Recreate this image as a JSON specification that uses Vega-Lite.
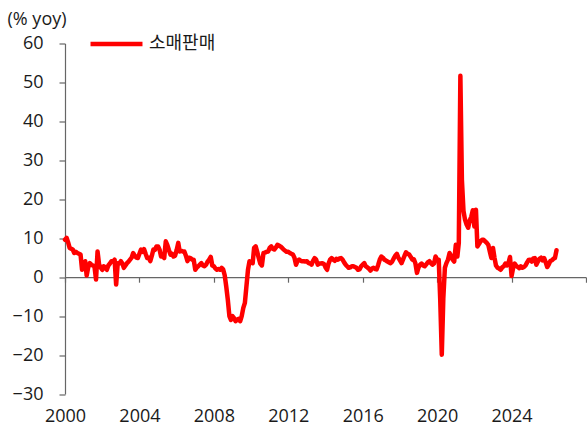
{
  "$schema": "https://vega.github.io/schema/vega-lite/v6.json",
  "width": 521,
  "height": 350.5,
  "autosize": "none",
  "padding": {"left": 65, "top": 43.5, "right": 1, "bottom": 36},
  "background": "white",
  "config": {
    "view": {"stroke": null},
    "font": "Open Sans",
    "axis": {"labelFont": "Open Sans", "titleFont": "Open Sans", "labelOverlap": false, "labelFlush": false, "grid": false}
  },
  "datasets": {
    "rs": [
      {"date":"2000-01-01","v":9.6},{"date":"2000-02-01","v":10.1},{"date":"2000-03-01","v":9.0},{"date":"2000-04-01","v":7.5},{"date":"2000-05-01","v":7.3},{"date":"2000-06-01","v":7.1},{"date":"2000-07-01","v":6.2},{"date":"2000-08-01","v":6.5},{"date":"2000-09-01","v":6.2},{"date":"2000-10-01","v":6.0},{"date":"2000-11-01","v":5.8},{"date":"2000-12-01","v":1.9},
      {"date":"2001-01-01","v":3.0},{"date":"2001-02-01","v":4.1},{"date":"2001-03-01","v":0.4},{"date":"2001-04-01","v":2.5},{"date":"2001-05-01","v":3.6},{"date":"2001-06-01","v":3.2},{"date":"2001-07-01","v":3.0},{"date":"2001-08-01","v":2.8},{"date":"2001-09-01","v":-0.6},{"date":"2001-10-01","v":6.6},{"date":"2001-11-01","v":3.2},{"date":"2001-12-01","v":2.5},
      {"date":"2002-01-01","v":1.9},{"date":"2002-02-01","v":2.8},{"date":"2002-03-01","v":2.5},{"date":"2002-04-01","v":1.9},{"date":"2002-05-01","v":3.0},{"date":"2002-06-01","v":3.5},{"date":"2002-07-01","v":4.1},{"date":"2002-08-01","v":4.0},{"date":"2002-09-01","v":4.5},{"date":"2002-10-01","v":-1.9},{"date":"2002-11-01","v":3.6},{"date":"2002-12-01","v":3.5},
      {"date":"2003-01-01","v":4.1},{"date":"2003-02-01","v":3.5},{"date":"2003-03-01","v":2.4},{"date":"2003-04-01","v":3.0},{"date":"2003-05-01","v":3.6},{"date":"2003-06-01","v":4.0},{"date":"2003-07-01","v":4.5},{"date":"2003-08-01","v":5.0},{"date":"2003-09-01","v":6.2},{"date":"2003-10-01","v":5.5},{"date":"2003-11-01","v":5.0},{"date":"2003-12-01","v":4.9},
      {"date":"2004-01-01","v":6.0},{"date":"2004-02-01","v":7.1},{"date":"2004-03-01","v":6.5},{"date":"2004-04-01","v":7.2},{"date":"2004-05-01","v":6.0},{"date":"2004-06-01","v":4.9},{"date":"2004-07-01","v":5.0},{"date":"2004-08-01","v":4.1},{"date":"2004-09-01","v":5.5},{"date":"2004-10-01","v":7.1},{"date":"2004-11-01","v":7.0},{"date":"2004-12-01","v":7.9},
      {"date":"2005-01-01","v":7.9},{"date":"2005-02-01","v":7.0},{"date":"2005-03-01","v":5.3},{"date":"2005-04-01","v":5.5},{"date":"2005-05-01","v":4.9},{"date":"2005-06-01","v":9.2},{"date":"2005-07-01","v":8.3},{"date":"2005-08-01","v":7.0},{"date":"2005-09-01","v":5.8},{"date":"2005-10-01","v":6.0},{"date":"2005-11-01","v":5.3},{"date":"2005-12-01","v":5.5},
      {"date":"2006-01-01","v":7.0},{"date":"2006-02-01","v":8.8},{"date":"2006-03-01","v":6.6},{"date":"2006-04-01","v":6.8},{"date":"2006-05-01","v":6.6},{"date":"2006-06-01","v":6.6},{"date":"2006-07-01","v":5.5},{"date":"2006-08-01","v":4.1},{"date":"2006-09-01","v":5.0},{"date":"2006-10-01","v":4.9},{"date":"2006-11-01","v":4.5},{"date":"2006-12-01","v":4.5},
      {"date":"2007-01-01","v":1.9},{"date":"2007-02-01","v":2.5},{"date":"2007-03-01","v":2.8},{"date":"2007-04-01","v":3.2},{"date":"2007-05-01","v":3.6},{"date":"2007-06-01","v":3.0},{"date":"2007-07-01","v":2.8},{"date":"2007-08-01","v":3.2},{"date":"2007-09-01","v":4.0},{"date":"2007-10-01","v":4.5},{"date":"2007-11-01","v":5.2},{"date":"2007-12-01","v":3.0},
      {"date":"2008-01-01","v":2.8},{"date":"2008-02-01","v":2.2},{"date":"2008-03-01","v":1.9},{"date":"2008-04-01","v":2.1},{"date":"2008-05-01","v":1.9},{"date":"2008-06-01","v":2.4},{"date":"2008-07-01","v":2.0},{"date":"2008-08-01","v":0.5},{"date":"2008-09-01","v":-2.5},{"date":"2008-10-01","v":-5.8},{"date":"2008-11-01","v":-10.0},{"date":"2008-12-01","v":-11.0},
      {"date":"2009-01-01","v":-10.0},{"date":"2009-02-01","v":-10.5},{"date":"2009-03-01","v":-11.3},{"date":"2009-04-01","v":-11.0},{"date":"2009-05-01","v":-10.7},{"date":"2009-06-01","v":-11.3},{"date":"2009-07-01","v":-10.0},{"date":"2009-08-01","v":-7.9},{"date":"2009-09-01","v":-6.6},{"date":"2009-10-01","v":-2.4},{"date":"2009-11-01","v":1.9},{"date":"2009-12-01","v":4.1},
      {"date":"2010-01-01","v":3.8},{"date":"2010-02-01","v":3.6},{"date":"2010-03-01","v":7.5},{"date":"2010-04-01","v":7.9},{"date":"2010-05-01","v":6.5},{"date":"2010-06-01","v":4.9},{"date":"2010-07-01","v":3.5},{"date":"2010-08-01","v":3.0},{"date":"2010-09-01","v":6.2},{"date":"2010-10-01","v":6.3},{"date":"2010-11-01","v":6.5},{"date":"2010-12-01","v":6.6},
      {"date":"2011-01-01","v":7.5},{"date":"2011-02-01","v":7.9},{"date":"2011-03-01","v":7.3},{"date":"2011-04-01","v":7.1},{"date":"2011-05-01","v":7.6},{"date":"2011-06-01","v":8.3},{"date":"2011-07-01","v":8.1},{"date":"2011-08-01","v":7.9},{"date":"2011-09-01","v":7.5},{"date":"2011-10-01","v":7.1},{"date":"2011-11-01","v":6.8},{"date":"2011-12-01","v":6.5},
      {"date":"2012-01-01","v":6.5},{"date":"2012-02-01","v":6.2},{"date":"2012-03-01","v":6.0},{"date":"2012-04-01","v":5.8},{"date":"2012-05-01","v":5.0},{"date":"2012-06-01","v":3.2},{"date":"2012-07-01","v":4.2},{"date":"2012-08-01","v":4.5},{"date":"2012-09-01","v":4.2},{"date":"2012-10-01","v":4.1},{"date":"2012-11-01","v":4.1},{"date":"2012-12-01","v":4.0},
      {"date":"2013-01-01","v":4.1},{"date":"2013-02-01","v":3.6},{"date":"2013-03-01","v":3.6},{"date":"2013-04-01","v":3.2},{"date":"2013-05-01","v":4.2},{"date":"2013-06-01","v":4.9},{"date":"2013-07-01","v":4.5},{"date":"2013-08-01","v":3.2},{"date":"2013-09-01","v":3.5},{"date":"2013-10-01","v":3.5},{"date":"2013-11-01","v":3.6},{"date":"2013-12-01","v":3.4},
      {"date":"2014-01-01","v":2.5},{"date":"2014-02-01","v":1.9},{"date":"2014-03-01","v":3.5},{"date":"2014-04-01","v":4.5},{"date":"2014-05-01","v":4.9},{"date":"2014-06-01","v":4.5},{"date":"2014-07-01","v":4.2},{"date":"2014-08-01","v":4.7},{"date":"2014-09-01","v":4.5},{"date":"2014-10-01","v":4.8},{"date":"2014-11-01","v":4.9},{"date":"2014-12-01","v":4.5},
      {"date":"2015-01-01","v":3.8},{"date":"2015-02-01","v":3.2},{"date":"2015-03-01","v":2.8},{"date":"2015-04-01","v":2.4},{"date":"2015-05-01","v":2.5},{"date":"2015-06-01","v":2.8},{"date":"2015-07-01","v":2.8},{"date":"2015-08-01","v":2.6},{"date":"2015-09-01","v":2.4},{"date":"2015-10-01","v":1.9},{"date":"2015-11-01","v":2.0},{"date":"2015-12-01","v":2.8},
      {"date":"2016-01-01","v":3.2},{"date":"2016-02-01","v":3.6},{"date":"2016-03-01","v":2.8},{"date":"2016-04-01","v":2.5},{"date":"2016-05-01","v":2.2},{"date":"2016-06-01","v":1.7},{"date":"2016-07-01","v":2.2},{"date":"2016-08-01","v":2.4},{"date":"2016-09-01","v":2.1},{"date":"2016-10-01","v":2.0},{"date":"2016-11-01","v":3.2},{"date":"2016-12-01","v":4.5},
      {"date":"2017-01-01","v":5.3},{"date":"2017-02-01","v":5.0},{"date":"2017-03-01","v":4.5},{"date":"2017-04-01","v":4.3},{"date":"2017-05-01","v":4.0},{"date":"2017-06-01","v":3.8},{"date":"2017-07-01","v":3.6},{"date":"2017-08-01","v":4.0},{"date":"2017-09-01","v":4.8},{"date":"2017-10-01","v":5.5},{"date":"2017-11-01","v":6.0},{"date":"2017-12-01","v":5.0},
      {"date":"2018-01-01","v":4.3},{"date":"2018-02-01","v":3.6},{"date":"2018-03-01","v":4.5},{"date":"2018-04-01","v":5.5},{"date":"2018-05-01","v":6.4},{"date":"2018-06-01","v":6.0},{"date":"2018-07-01","v":5.8},{"date":"2018-08-01","v":5.2},{"date":"2018-09-01","v":4.5},{"date":"2018-10-01","v":4.6},{"date":"2018-11-01","v":3.5},{"date":"2018-12-01","v":1.1},
      {"date":"2019-01-01","v":2.5},{"date":"2019-02-01","v":3.2},{"date":"2019-03-01","v":3.5},{"date":"2019-04-01","v":3.0},{"date":"2019-05-01","v":2.8},{"date":"2019-06-01","v":3.3},{"date":"2019-07-01","v":3.8},{"date":"2019-08-01","v":4.1},{"date":"2019-09-01","v":3.6},{"date":"2019-10-01","v":3.2},{"date":"2019-11-01","v":3.5},{"date":"2019-12-01","v":5.3},
      {"date":"2020-01-01","v":4.5},{"date":"2020-02-01","v":4.5},{"date":"2020-03-01","v":-5.5},{"date":"2020-04-01","v":-19.9},{"date":"2020-05-01","v":-5.5},{"date":"2020-06-01","v":2.4},{"date":"2020-07-01","v":3.6},{"date":"2020-08-01","v":4.5},{"date":"2020-09-01","v":6.2},{"date":"2020-10-01","v":5.5},{"date":"2020-11-01","v":4.5},{"date":"2020-12-01","v":4.0},
      {"date":"2021-01-01","v":8.3},{"date":"2021-02-01","v":5.3},{"date":"2021-03-01","v":8.8},{"date":"2021-04-01","v":51.7},{"date":"2021-05-01","v":25.0},{"date":"2021-06-01","v":17.0},{"date":"2021-07-01","v":14.8},{"date":"2021-08-01","v":13.5},{"date":"2021-09-01","v":12.7},{"date":"2021-10-01","v":14.5},{"date":"2021-11-01","v":15.5},{"date":"2021-12-01","v":17.2},
      {"date":"2022-01-01","v":13.0},{"date":"2022-02-01","v":17.3},{"date":"2022-03-01","v":7.9},{"date":"2022-04-01","v":8.5},{"date":"2022-05-01","v":9.2},{"date":"2022-06-01","v":9.6},{"date":"2022-07-01","v":9.6},{"date":"2022-08-01","v":9.2},{"date":"2022-09-01","v":8.8},{"date":"2022-10-01","v":8.3},{"date":"2022-11-01","v":6.5},{"date":"2022-12-01","v":4.9},
      {"date":"2023-01-01","v":7.5},{"date":"2023-02-01","v":4.9},{"date":"2023-03-01","v":3.0},{"date":"2023-04-01","v":2.4},{"date":"2023-05-01","v":2.2},{"date":"2023-06-01","v":1.9},{"date":"2023-07-01","v":2.5},{"date":"2023-08-01","v":2.8},{"date":"2023-09-01","v":3.5},{"date":"2023-10-01","v":3.0},{"date":"2023-11-01","v":3.6},{"date":"2023-12-01","v":5.2},
      {"date":"2024-01-01","v":0.3},{"date":"2024-02-01","v":2.4},{"date":"2024-03-01","v":3.5},{"date":"2024-04-01","v":2.9},{"date":"2024-05-01","v":2.6},{"date":"2024-06-01","v":2.3},{"date":"2024-07-01","v":2.8},{"date":"2024-08-01","v":2.4},{"date":"2024-09-01","v":2.6},{"date":"2024-10-01","v":3.0},{"date":"2024-11-01","v":3.8},{"date":"2024-12-01","v":4.4},
      {"date":"2025-01-01","v":4.5},{"date":"2025-02-01","v":4.0},{"date":"2025-03-01","v":4.8},{"date":"2025-04-01","v":4.9},{"date":"2025-05-01","v":3.2},{"date":"2025-06-01","v":4.0},{"date":"2025-07-01","v":4.7},{"date":"2025-08-01","v":5.0},{"date":"2025-09-01","v":4.3},{"date":"2025-10-01","v":4.9},{"date":"2025-11-01","v":3.8},{"date":"2025-12-01","v":2.6},
      {"date":"2026-01-01","v":3.3},{"date":"2026-02-01","v":4.2},{"date":"2026-03-01","v":4.3},{"date":"2026-04-01","v":4.7},{"date":"2026-05-01","v":4.9},{"date":"2026-06-01","v":6.9}
    ]
  },
  "data": {"name": "rs"},
  "layer": [
    {
      "mark": {"type": "line", "strokeOpacity": 0},
      "encoding": {
        "x": {
          "field": "date", "type": "temporal",
          "scale": {"domain": ["2000-01-01T00:00:00", "2028-01-01T00:00:00"], "nice": false},
          "axis": {
            "orient": "bottom",
            "offset": -116.8,
            "title": null,
            "labels": false,
            "domainColor": "#666666",
            "domainWidth": 1.2,
            "tickColor": "#666666",
            "tickWidth": 1.2,
            "tickSize": 5,
            "values": [
              {"year": 2000, "month": 1, "date": 1}, {"year": 2004, "month": 1, "date": 1}, {"year": 2008, "month": 1, "date": 1}, {"year": 2012, "month": 1, "date": 1},
              {"year": 2016, "month": 1, "date": 1}, {"year": 2020, "month": 1, "date": 1}, {"year": 2024, "month": 1, "date": 1}, {"year": 2028, "month": 1, "date": 1}
            ]
          }
        },
        "y": {
          "field": "v", "type": "quantitative",
          "scale": {"domain": [-30, 60], "nice": false, "zero": false},
          "axis": {
            "values": [-30, -20, -10, 0, 10, 20, 30, 40, 50, 60],
            "title": "(% yoy)",
            "titleAngle": 0,
            "titleAlign": "left",
            "titleBaseline": "alphabetic",
            "titleX": -58,
            "titleY": -19.5,
            "titleFontSize": 18,
            "titleFontWeight": "normal",
            "titleColor": "#1a1a1a",
            "labelFontSize": 18,
            "labelColor": "#1a1a1a",
            "labelPadding": 16,
            "labelOverlap": false,
            "domainColor": "#666666",
            "domainWidth": 1.2,
            "tickColor": "#666666",
            "tickWidth": 1.2,
            "tickSize": 6
          }
        }
      }
    },
    {
      "mark": {"type": "line", "strokeWidth": 4.5, "strokeJoin": "round", "strokeCap": "round", "clip": false},
      "encoding": {
        "x": {
          "field": "date", "type": "temporal",
          "axis": {
            "orient": "bottom",
            "title": null,
            "domain": false,
            "ticks": false,
            "format": "%Y",
            "labelFontSize": 18,
            "labelColor": "#1a1a1a",
            "labelPadding": 13,
            "values": [
              {"year": 2000, "month": 1, "date": 1}, {"year": 2004, "month": 1, "date": 1}, {"year": 2008, "month": 1, "date": 1}, {"year": 2012, "month": 1, "date": 1},
              {"year": 2016, "month": 1, "date": 1}, {"year": 2020, "month": 1, "date": 1}, {"year": 2024, "month": 1, "date": 1}
            ]
          }
        },
        "y": {
          "field": "v", "type": "quantitative",
          "axis": {
            "values": [-30, -20, -10, 0, 10, 20, 30, 40, 50, 60],
            "title": "(% yoy)",
            "titleAngle": 0,
            "titleAlign": "left",
            "titleBaseline": "alphabetic",
            "titleX": -58,
            "titleY": -19.5,
            "titleFontSize": 18,
            "titleFontWeight": "normal",
            "titleColor": "#1a1a1a",
            "labelFontSize": 18,
            "labelColor": "#1a1a1a",
            "labelPadding": 16,
            "labelOverlap": false,
            "domainColor": "#666666",
            "domainWidth": 1.2,
            "tickColor": "#666666",
            "tickWidth": 1.2,
            "tickSize": 6
          }
        },
        "color": {
          "datum": "소매판매",
          "type": "nominal",
          "scale": {"range": ["#FF0000"]},
          "legend": {
            "title": null,
            "orient": "none",
            "legendX": 23,
            "legendY": -28,
            "padding": 0,
            "symbolType": "stroke",
            "symbolSize": 2700,
            "symbolStrokeWidth": 4.5,
            "symbolStrokeColor": "#FF0000",
            "labelFontSize": 18,
            "labelColor": "#1a1a1a",
            "labelOffset": 4,
            "labelFont": "Noto Sans CJK KR"
          }
        }
      }
    }
  ],
  "resolve": {"axis": {"x": "independent"}}
}
